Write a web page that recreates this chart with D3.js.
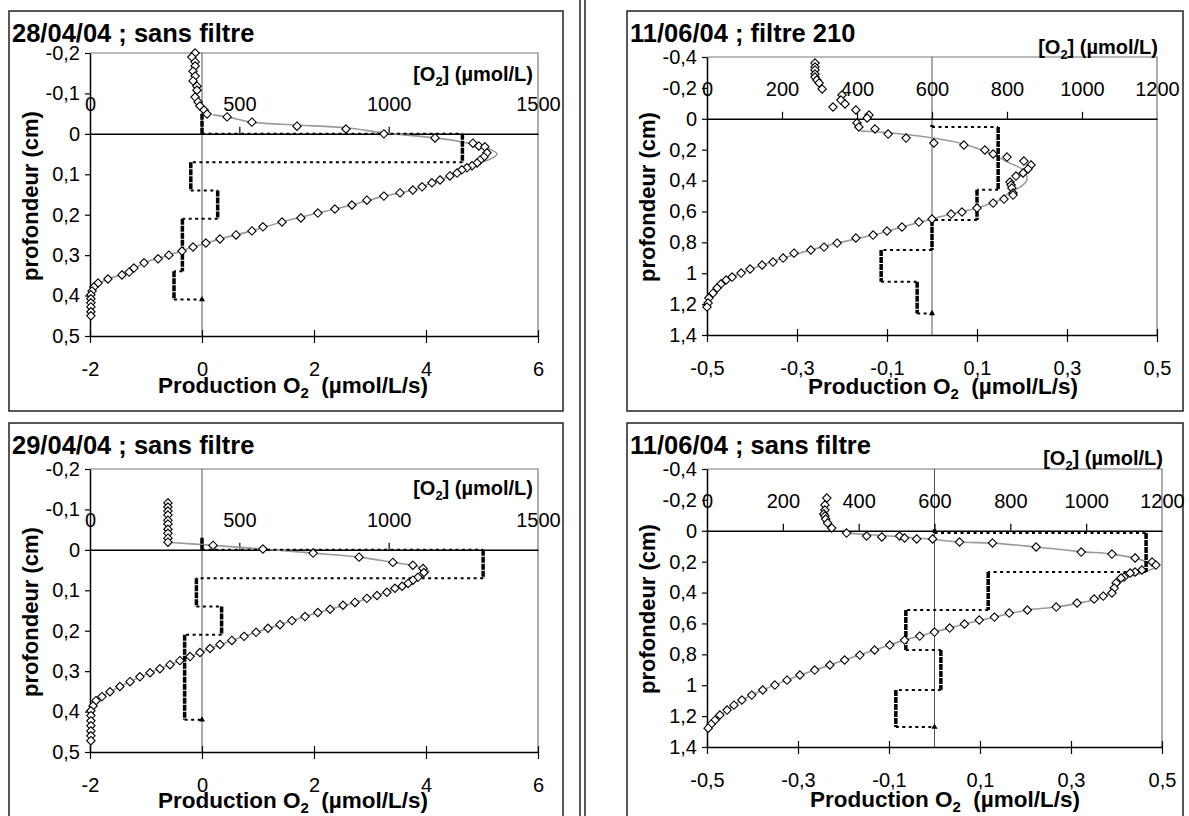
<!DOCTYPE html>
<html>
<head>
<meta charset="utf-8">
<script src="https://cdn.jsdelivr.net/npm/d3@7"></script>
<style>
  body { margin: 0; background: #fff; }
  svg { display: block; }
  text { font-family: Arial, "Liberation Sans", sans-serif; fill: #000; }
</style>
</head>
<body>
<div id="chart"></div>
<script>
// ---- data: [depth (cm), O2 (µmol/L)] profiles, fitted curves, production steps ----
const p1Profile = [[-0.200,352],[-0.190,341],[-0.178,352],[-0.168,352],[-0.155,345],[-0.143,352],[-0.131,345],[-0.118,358],[-0.108,358],[-0.091,352],[-0.079,362],[-0.069,368],[-0.059,382],[-0.049,392],[-0.042,459],[-0.029,542],[-0.019,693],[-0.012,857],[0.000,984],[0.010,1155],[0.023,1282],[0.030,1302],[0.032,1322],[0.047,1329],[0.057,1319],[0.065,1306],[0.072,1296],[0.079,1279],[0.084,1262],[0.089,1245],[0.097,1229],[0.104,1205],[0.114,1172],[0.121,1145],[0.131,1112],[0.139,1081],[0.146,1038],[0.154,984],[0.164,927],[0.176,877],[0.186,820],[0.196,763],[0.208,706],[0.218,643],[0.230,579],[0.240,542],[0.250,489],[0.260,435],[0.270,388],[0.280,345],[0.290,308],[0.300,264],[0.309,228],[0.319,181],[0.332,147],[0.342,131],[0.349,107],[0.359,60],[0.369,27],[0.379,13],[0.389,7],[0.398,3],[0.408,3],[0.418,3],[0.428,3],[0.440,3],[0.450,3]];
const p1Fit = [[-0.047,412],[-0.042,459],[-0.029,542],[-0.022,693],[-0.015,857],[-0.002,988],[0.010,1155],[0.020,1245],[0.035,1329],[0.050,1363],[0.065,1333],[0.072,1296],[0.079,1279],[0.089,1245],[0.104,1205],[0.121,1145],[0.139,1081],[0.154,984],[0.176,877],[0.196,763],[0.218,643],[0.240,542],[0.260,435],[0.280,345],[0.300,264],[0.319,181],[0.342,131],[0.359,60],[0.379,13],[0.398,3]];
const p1StepDepth = [-0.05, 0, 0.07, 0.14, 0.21, 0.34, 0.41];
const p1StepProd = [0, 4.65, -0.2, 0.28, -0.35, -0.5];

const p2Profile = [[-0.116,261],[-0.106,261],[-0.096,261],[-0.086,261],[-0.073,261],[-0.064,261],[-0.051,261],[-0.041,261],[-0.029,261],[-0.019,261],[-0.011,412],[-0.002,579],[0.008,747],[0.018,901],[0.031,1014],[0.038,1081],[0.046,1115],[0.056,1118],[0.068,1098],[0.075,1081],[0.083,1065],[0.090,1045],[0.095,1021],[0.105,994],[0.113,961],[0.120,927],[0.130,887],[0.137,847],[0.147,804],[0.155,763],[0.165,720],[0.175,676],[0.185,636],[0.194,596],[0.204,556],[0.214,516],[0.224,475],[0.234,435],[0.244,402],[0.254,368],[0.264,335],[0.274,301],[0.284,268],[0.294,234],[0.304,201],[0.314,167],[0.326,134],[0.338,100],[0.351,67],[0.363,40],[0.373,20],[0.386,10],[0.398,3],[0.410,3],[0.423,3],[0.435,3],[0.448,3],[0.460,3],[0.472,3]];
const p2Fit = [[-0.019,261],[-0.011,412],[-0.002,579],[0.008,747],[0.018,901],[0.031,1014],[0.040,1090],[0.052,1135],[0.062,1120],[0.072,1090],[0.083,1065],[0.095,1021],[0.113,961],[0.130,887],[0.147,804],[0.165,720],[0.185,636],[0.204,556],[0.224,475],[0.244,402],[0.264,335],[0.284,268],[0.304,201],[0.326,134],[0.351,67],[0.373,20],[0.398,3]];
const p2StepDepth = [-0.03, 0, 0.07, 0.14, 0.21, 0.42];
const p2StepProd = [0, 5.02, -0.1, 0.35, -0.31];

const p3Profile = [[-0.361,288],[-0.335,288],[-0.316,288],[-0.290,288],[-0.270,288],[-0.251,293],[-0.232,299],[-0.193,307],[-0.154,360],[-0.121,357],[-0.096,368],[-0.076,336],[-0.057,397],[-0.024,432],[-0.005,427],[0.027,400],[0.053,405],[0.066,448],[0.099,483],[0.125,531],[0.157,605],[0.170,685],[0.202,741],[0.228,763],[0.248,800],[0.274,845],[0.299,864],[0.325,856],[0.351,843],[0.371,824],[0.410,808],[0.429,811],[0.448,813],[0.481,816],[0.494,816],[0.520,792],[0.546,763],[0.578,720],[0.604,680],[0.617,651],[0.649,600],[0.669,565],[0.701,520],[0.727,480],[0.753,443],[0.772,397],[0.805,347],[0.831,312],[0.850,277],[0.870,232],[0.902,203],[0.928,176],[0.947,147],[0.973,115],[0.999,91],[1.025,67],[1.044,51],[1.070,37],[1.096,27],[1.129,16],[1.161,5],[1.193,3],[1.219,0]];
const p3Fit = [[0.080,410],[0.086,461],[0.125,603],[0.163,683],[0.215,747],[0.287,808],[0.332,843],[0.397,853],[0.442,835],[0.474,808],[0.520,785],[0.546,760],[0.578,720],[0.617,651],[0.649,600],[0.701,520],[0.753,443],[0.805,347],[0.850,277],[0.902,203],[0.947,147],[0.999,91],[1.044,51],[1.096,27],[1.161,5],[1.219,0]];
const p3StepDepth = [0.04, 0.053, 0.46, 0.655, 0.85, 1.055, 1.26];
const p3StepProd = [0, 0.147, 0.1, 0, -0.113, -0.033];

const p4Profile = [[-0.212,316],[-0.167,311],[-0.134,311],[-0.109,308],[-0.096,311],[-0.076,313],[-0.050,318],[-0.018,329],[0.015,368],[0.034,421],[0.040,461],[0.034,508],[0.047,521],[0.053,553],[0.053,595],[0.073,666],[0.079,753],[0.105,868],[0.138,987],[0.151,1068],[0.176,1129],[0.202,1174],[0.222,1184],[0.254,1147],[0.267,1129],[0.274,1116],[0.300,1100],[0.306,1092],[0.338,1079],[0.371,1074],[0.403,1068],[0.423,1045],[0.442,1021],[0.468,976],[0.494,921],[0.513,845],[0.533,797],[0.559,758],[0.578,718],[0.604,679],[0.630,640],[0.656,600],[0.682,561],[0.708,521],[0.740,482],[0.772,442],[0.805,403],[0.837,363],[0.869,324],[0.902,284],[0.934,245],[0.967,211],[0.999,179],[1.031,147],[1.064,118],[1.096,92],[1.129,71],[1.161,53],[1.193,34],[1.226,21],[1.252,11],[1.278,3]];
const p4Fit = [[0.015,368],[0.034,480],[0.050,570],[0.073,666],[0.080,753],[0.105,868],[0.135,987],[0.151,1068],[0.190,1147],[0.235,1184],[0.260,1160],[0.280,1139],[0.306,1100],[0.350,1075],[0.400,1062],[0.440,1030],[0.470,976],[0.494,921],[0.513,845],[0.559,758],[0.604,679],[0.656,600],[0.708,521],[0.772,442],[0.837,363],[0.902,284],[0.967,211],[1.031,147],[1.096,92],[1.161,53],[1.226,21],[1.278,3]];
const p4StepDepth = [-0.01, 0.015, 0.267, 0.513, 0.772, 1.031, 1.27];
const p4StepProd = [0, 0.465, 0.118, -0.063, 0.014, -0.085];

// ---- tick values ----
const depthTicksA = [-0.2, -0.1, 0, 0.1, 0.2, 0.3, 0.4, 0.5];
const prodTicksA = [-2, 0, 2, 4, 6];
const o2TicksA = [0, 500, 1000, 1500];
const depthTicksB = [-0.4, -0.2, 0, 0.2, 0.4, 0.6, 0.8, 1, 1.2, 1.4];
const prodTicksB = [-0.5, -0.3, -0.1, 0.1, 0.3, 0.5];
const o2TicksB = [0, 200, 400, 600, 800, 1000, 1200];

const titles = ["28/04/04 ; sans filtre", "29/04/04 ; sans filtre", "11/06/04 ; filtre 210", "11/06/04 ; sans filtre"];

const panels = [
  { title: titles[0], box: [9, 11, 563, 411], plot: [90, 53, 538, 336],
    depth: [-0.2, 0.5], prod: [-2, 6], o2: [0, 1500],
    dT: depthTicksA, pT: prodTicksA, oT: o2TicksA,
    profile: p1Profile, fit: p1Fit, sd: p1StepDepth, sp: p1StepProd,
    o2lab: [533, 81], xlab: [293, 393], ylab: [31, 196] },
  { title: titles[1], box: [9, 423, 563, 830], plot: [90, 469, 538, 752],
    depth: [-0.2, 0.5], prod: [-2, 6], o2: [0, 1500],
    dT: depthTicksA, pT: prodTicksA, oT: o2TicksA,
    profile: p2Profile, fit: p2Fit, sd: p2StepDepth, sp: p2StepProd,
    o2lab: [533, 495], xlab: [293, 808], ylab: [31, 612] },
  { title: titles[2], box: [627, 11, 1183, 411], plot: [707, 57, 1157, 335],
    depth: [-0.4, 1.4], prod: [-0.5, 0.5], o2: [0, 1200],
    dT: depthTicksB, pT: prodTicksB, oT: o2TicksB,
    profile: p3Profile, fit: p3Fit, sd: p3StepDepth, sp: p3StepProd,
    o2lab: [1158, 54], xlab: [943, 394], ylab: [648, 197] },
  { title: titles[3], box: [627, 423, 1183, 830], plot: [707, 469, 1162, 747],
    depth: [-0.4, 1.4], prod: [-0.5, 0.5], o2: [0, 1200],
    dT: depthTicksB, pT: prodTicksB, oT: o2TicksB,
    profile: p4Profile, fit: p4Fit, sd: p4StepDepth, sp: p4StepProd,
    o2lab: [1163, 465], xlab: [945, 807], ylab: [648, 609] }
];

const W = 1189, H = 816;
const svg = d3.select("#chart").append("svg").attr("width", W).attr("height", H);

const fmt = d => String(Math.round(d * 10) / 10).replace(".", ",");
const TICK = 20;

// separator between the two columns
[580, 585].forEach(x => svg.append("line")
  .attr("x1", x).attr("x2", x).attr("y1", 0).attr("y2", H)
  .attr("stroke", "#222").attr("stroke-width", 1.5));

panels.forEach(p => {
  const g = svg.append("g");
  const [L, T, R, B] = p.plot;

  g.append("rect")
    .attr("x", p.box[0]).attr("y", p.box[1])
    .attr("width", p.box[2] - p.box[0]).attr("height", p.box[3] - p.box[1])
    .attr("fill", "none").attr("stroke", "#222").attr("stroke-width", 1.5);

  const y = d3.scaleLinear().domain(p.depth).range([T, B]);
  const xP = d3.scaleLinear().domain(p.prod).range([L, R]);
  const xO = d3.scaleLinear().domain(p.o2).range([L, R]);

  // plot-area frame (top + right)
  g.append("path").attr("d", `M${L},${T}H${R}V${B}`)
    .attr("fill", "none").attr("stroke", "#777").attr("stroke-width", 1.2);
  // production = 0 line
  g.append("line").attr("x1", xP(0)).attr("x2", xP(0)).attr("y1", T).attr("y2", B)
    .attr("stroke", "#555").attr("stroke-width", 1);

  // left axis (depth)
  const ya = g.append("g").attr("transform", `translate(${L},0)`)
    .call(d3.axisLeft(y).tickValues(p.dT).tickFormat(fmt).tickSize(5).tickPadding(5).tickSizeOuter(0));
  // bottom axis (production)
  const xa = g.append("g").attr("transform", `translate(0,${B})`)
    .call(d3.axisBottom(xP).tickValues(p.pT).tickFormat(fmt).tickSize(7).tickPadding(19).tickSizeOuter(0));
  xa.selectAll(".tick line").attr("y1", -6);
  // top axis (O2) along depth 0
  const oa = g.append("g").attr("transform", `translate(0,${y(0)})`)
    .call(d3.axisTop(xO).tickValues(p.oT).tickFormat(d => String(d)).tickSize(7).tickPadding(16).tickSizeOuter(0));
  oa.selectAll(".tick").filter(d => d === 0 || d === p.o2[1]).select("line").remove();

  [ya, xa, oa].forEach(a => {
    a.select(".domain").attr("stroke", "#000").attr("stroke-width", 1.5);
    a.selectAll(".tick line").attr("stroke", "#000").attr("stroke-width", 1.2);
    a.selectAll("text").attr("font-size", TICK).attr("font-family", "Arial, 'Liberation Sans', sans-serif").attr("fill", "#000");
  });

  // fitted O2 curve
  const line = d3.line().x(d => xO(d[1])).y(d => y(d[0])).curve(d3.curveCatmullRom.alpha(0.5));
  g.append("path").datum(p.fit).attr("d", line)
    .attr("fill", "none").attr("stroke", "#9a9a9a").attr("stroke-width", 1.6);

  // production steps: thick vertical bars + dotted connectors
  p.sp.forEach((v, i) => {
    g.append("line")
      .attr("x1", xP(v)).attr("x2", xP(v)).attr("y1", y(p.sd[i])).attr("y2", y(p.sd[i + 1]))
      .attr("stroke", "#000").attr("stroke-width", 3.5).attr("stroke-dasharray", "6,1");
    const next = i < p.sp.length - 1 ? p.sp[i + 1] : 0;
    g.append("line")
      .attr("x1", xP(v)).attr("x2", xP(next)).attr("y1", y(p.sd[i + 1])).attr("y2", y(p.sd[i + 1]))
      .attr("stroke", "#000").attr("stroke-width", 2).attr("stroke-dasharray", "3,3.5");
  });
  const last = p.sd[p.sd.length - 1];
  g.append("path").attr("transform", `translate(${xP(0)},${y(last)})`)
    .attr("d", d3.symbol(d3.symbolTriangle, 16)).attr("fill", "#000");

  // measured O2 profile (open diamonds)
  g.selectAll(".pt").data(p.profile).join("path")
    .attr("transform", d => `translate(${xO(d[1])},${y(d[0])})`)
    .attr("d", "M0,-4.2L4.2,0L0,4.2L-4.2,0Z")
    .attr("fill", "#fff").attr("stroke", "#000").attr("stroke-width", 1.1);

  // texts
  g.append("text").attr("x", p.box[0] + 3).attr("y", p.box[1] + 31)
    .attr("font-size", 25.5).attr("font-weight", "bold").text(p.title);

  const ol = g.append("text").attr("x", p.o2lab[0]).attr("y", p.o2lab[1])
    .attr("text-anchor", "end").attr("font-size", 20).attr("font-weight", "bold");
  ol.append("tspan").text("[O");
  ol.append("tspan").attr("font-size", 13).attr("dy", 5).text("2");
  ol.append("tspan").attr("dy", -5).text("] (µmol/L)");

  const xl = g.append("text").attr("x", p.xlab[0]).attr("y", p.xlab[1])
    .attr("text-anchor", "middle").attr("font-size", 22.5).attr("font-weight", "bold");
  xl.append("tspan").text("Production O");
  xl.append("tspan").attr("font-size", 15).attr("dy", 5).text("2");
  xl.append("tspan").attr("dy", -5).attr("xml:space", "preserve").text("  (µmol/L/s)");

  g.append("text").attr("transform", `translate(${p.ylab[0] + 7},${p.ylab[1]}) rotate(-90)`)
    .attr("text-anchor", "middle").attr("font-size", 22).attr("font-weight", "bold")
    .text("profondeur (cm)");
});
</script>
</body>
</html>
